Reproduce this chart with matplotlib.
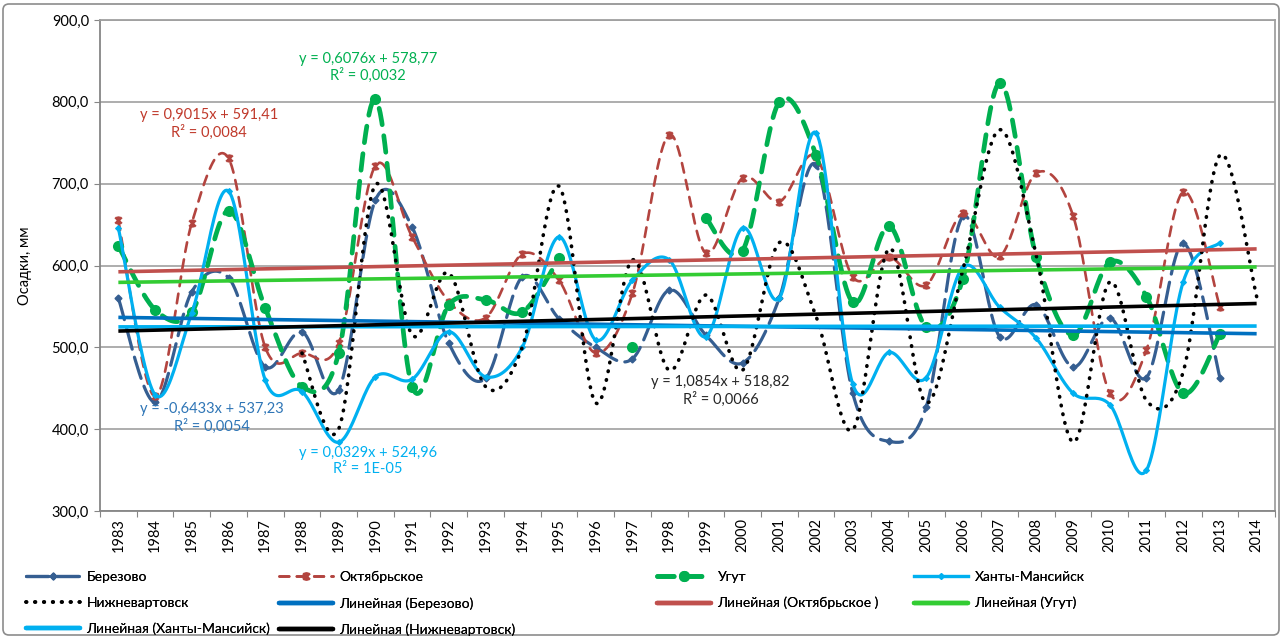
import numpy as np
import matplotlib
matplotlib.use("Agg")
import matplotlib.pyplot as plt
from matplotlib.lines import Line2D
from matplotlib.path import Path
from matplotlib.patches import FancyBboxPatch
from matplotlib.transforms import IdentityTransform

plt.rcParams["font.family"] = ["Lato", "Roboto", "DejaVu Sans"]
plt.rcParams["lines.scale_dashes"] = False

# --- data ------------------------------------------------------------------
years = list(range(1983, 2015))

berezovo = [560, 433, 568, 585, 476, 519, 448, 680, 647, 505, 462, 586, 535, 500, 486, 570,
            515, 481, 560, 723, 444, 385, 427, 660, 513, 552, 476, 536, 463, 627, 463, None]
oktyabrskoe = [655, 440, 652, 731, 500, 493, 505, 722, 635, 556, 536, 614, 582, 493, 566, 760,
               615, 707, 678, 733, 586, 610, 576, 664, 611, 713, 661, 444, 497, 690, 549, None]
ugut = [624, 546, 543, 667, 548, 452, 493, 803, 452, 552, 558, 543, 609, None, 500, None,
        658, 618, 800, 735, 555, 648, 525, 584, 823, 610, 515, 604, 562, 444, 516, None]
khanty = [646, 442, 542, 691, 460, 446, 384, 464, 461, 519, 464, 500, 635, 509, 582, 607,
          513, 646, 560, 762, 455, 494, 463, 598, 549, 511, 444, 430, 350, 580, 628, None]
nizhnevartovsk = [None, None, None, None, None, 493, 400, 699, 515, 591, 452, 500, 697, 432, 607, 472,
                  564, 472, 628, 538, 399, 621, 432, 595, 766, 612, 384, 580, 435, 470, 735, 562]

names = ["Березово", "Октябрьское", "Угут", "Ханты-Мансийск", "Нижневартовск"]
trend_names = ["Линейная (Березово)", "Линейная (Октябрьское )", "Линейная (Угут)",
               "Линейная (Ханты-Мансийск)", "Линейная (Нижневартовск)"]
trend_slope = [-0.6433, 0.9015, 0.6076, 0.0329, 1.0854]
trend_icpt = [537.23, 591.41, 578.77, 524.96, 518.82]
trend_eq = ["y = -0,6433x + 537,23", "y = 0,9015x + 591,41", "y = 0,6076x + 578,77",
            "y = 0,0329x + 524,96", "y = 1,0854x + 518,82"]
trend_r2 = ["R² = 0,0054", "R² = 0,0084", "R² = 0,0032", "R² = 1E-05", "R² = 0,0066"]
# where each equation label sits (category index, value)
label_pos = [(2.55, 414), (2.47, 773), (6.8, 842), (6.8, 361), (16.4, 447)]

series = [berezovo, oktyabrskoe, ugut, khanty, nizhnevartovsk]

# --- styles ---------------------------------------------------------------
star = Path([(-1, -1), (1, 1), (-1, 1), (1, -1), (0, -1.3), (0, 1.3)],
            [Path.MOVETO, Path.LINETO, Path.MOVETO, Path.LINETO, Path.MOVETO, Path.LINETO])
styles = [
    dict(color="#355E91", lw=2.3, dashes=(16, 6), marker="D", ms=3.5, mew=1.0),
    dict(color="#B3443F", lw=1.9, dashes=(7, 5.5), marker=star, ms=6, mew=1.8),
    dict(color="#00B050", lw=3.4, dashes=(12, 8), marker="o", ms=8, mew=0),
    dict(color="#00B0F0", lw=2.3, dashes=None, marker="D", ms=3, mew=0.8),
    dict(color="#000000", lw=2.6, dashes=(0.4, 6.0), marker=None, ms=0, mew=0),
]
trend_colors = ["#0070C0", "#C0504D", "#33CC33", "#00B0F0", "#000000"]
label_colors = ["#2E75B6", "#C0392B", "#00B050", "#00B0F0", "#262626"]
FS = 10.5
LFS = 10


def smooth(xs, ys, n=24):
    """Excel-like smoothed line (Bezier through points, Catmull-Rom controls)."""
    p = np.column_stack([xs, ys]).astype(float)
    if len(p) < 2:
        return p[:, 0], p[:, 1]
    out = [p[:1]]
    t = np.linspace(0, 1, n)[1:, None]
    for i in range(len(p) - 1):
        p0 = p[max(i - 1, 0)]
        p1, p2 = p[i], p[i + 1]
        p3 = p[min(i + 2, len(p) - 1)]
        c1 = p1 + (p2 - p0) / 6
        c2 = p2 - (p3 - p1) / 6
        seg = (1 - t) ** 3 * p1 + 3 * (1 - t) ** 2 * t * c1 + 3 * (1 - t) * t ** 2 * c2 + t ** 3 * p2
        out.append(seg)
    out = np.vstack(out)
    return out[:, 0], out[:, 1]


def segments(vals):
    seg, cur = [], []
    for i, v in enumerate(vals):
        if v is None:
            if cur:
                seg.append(cur)
            cur = []
        else:
            cur.append((i, v))
    if cur:
        seg.append(cur)
    return seg


fig = plt.figure(figsize=(12.83, 6.38), dpi=100)
ax = fig.add_axes([100 / 1283, 127 / 638, 1175 / 1283, 491 / 638])

x_idx = np.arange(len(years))

for k, vals in enumerate(series):
    st = styles[k]
    for seg in segments(vals):
        xs = [s[0] for s in seg]
        ys = [s[1] for s in seg]
        sx, sy = smooth(xs, ys)
        ln, = ax.plot(sx, sy, color=st["color"], lw=st["lw"], zorder=3 + k,
                      solid_capstyle="round", dash_capstyle="round")
        if st["dashes"] is not None:
            ln.set_dashes(st["dashes"])
        if st["marker"] is not None:
            ax.plot(xs, ys, ls="none", marker=st["marker"], ms=st["ms"], color=st["color"],
                    mec=st["color"], mew=st["mew"], zorder=3 + k)

tx = np.arange(1, len(years) + 1)
for k in range(5):
    ax.plot(x_idx, trend_slope[k] * tx + trend_icpt[k], color=trend_colors[k], lw=2.6,
            zorder=10, solid_capstyle="butt")
    lx, ly = label_pos[k]
    ax.text(lx, ly, trend_eq[k] + "\n" + trend_r2[k], color=label_colors[k], fontsize=FS,
            ha="center", va="center", linespacing=1.2, zorder=12)

ax.set_xlim(-0.5, len(years) - 0.5)
ax.set_ylim(300, 900)
ax.set_yticks(range(300, 901, 100))
ax.set_yticklabels([f"{v:.1f}".replace(".", ",") for v in range(300, 901, 100)], fontsize=FS)
ax.set_xticks(np.arange(-0.5, len(years), 1.0))
ax.set_xticklabels([])
ax.set_xticks(x_idx, minor=True)
ax.set_xticklabels([str(y) for y in years], minor=True, rotation=90, fontsize=FS)
ax.tick_params(axis="x", which="major", length=4, color="#868686", direction="out")
ax.tick_params(axis="x", which="minor", length=0, pad=5)
ax.tick_params(axis="y", length=4, color="#868686", pad=4)
ax.grid(axis="y", color="#A0A0A0", lw=1.2)
ax.set_axisbelow(True)
for sp in ax.spines.values():
    sp.set_color("#A0A0A0")
    sp.set_linewidth(1.3)
ax.spines["left"].set_color("#868686")
ax.spines["bottom"].set_color("#868686")
ax.set_ylabel("Осадки, мм", fontsize=FS, labelpad=14)

# legend: 4 columns placed like the Excel legend
handles = []
for k in range(5):
    st = styles[k]
    h = Line2D([], [], color=st["color"], lw=st["lw"], marker=st["marker"], ms=st["ms"],
               mew=st["mew"], mec=st["color"], dash_capstyle="round")
    if st["dashes"] is not None:
        h.set_dashes(st["dashes"])
    handles.append(h)
for k in range(5):
    handles.append(Line2D([], [], color=trend_colors[k], lw=3.2, solid_capstyle="round"))
labels = names + trend_names
cols = [[0, 4, 8], [1, 5, 9], [2, 6], [3, 7]]
col_x = [26, 279, 657, 914]
for c, idx in enumerate(cols):
    leg = fig.legend([handles[i] for i in idx], [labels[i] for i in idx],
                     loc="upper left", bbox_to_anchor=(col_x[c] / 1283, 1 - 571 / 638),
                     frameon=False, fontsize=LFS, handlelength=3.9, handletextpad=0.45,
                     labelspacing=1.0, borderpad=0, borderaxespad=0, numpoints=1)
    fig.add_artist(leg)

border = FancyBboxPatch((3, 3), 1276, 631, boxstyle="round,pad=0,rounding_size=6",
                        transform=IdentityTransform(), fill=False, ec="#8C8C8C", lw=1.2)
fig.patches.append(border)

fig.savefig("out.png", dpi=100)
